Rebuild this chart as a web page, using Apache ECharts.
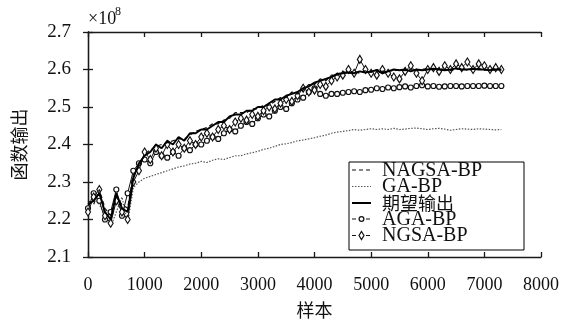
<!DOCTYPE html>
<html>
<head>
<meta charset="utf-8">
<script src="https://cdn.jsdelivr.net/npm/echarts@6/dist/echarts.min.js"></script>
<style>
  html, body { margin: 0; padding: 0; background: #fff; }
  #chart { width: 569px; height: 324px; }
</style>
</head>
<body>
<div id="chart"></div>
<script>
// sample index of every point (x axis)
const samples = [
  0, 100, 200, 300, 400, 500, 600, 700, 800, 900,
  1000, 1100, 1200, 1300, 1400, 1500, 1600, 1700, 1800, 1900,
  2000, 2100, 2200, 2300, 2400, 2500, 2600, 2700, 2800, 2900,
  3000, 3100, 3200, 3300, 3400, 3500, 3600, 3700, 3800, 3900,
  4000, 4100, 4200, 4300, 4400, 4500, 4600, 4700, 4800, 4900,
  5000, 5100, 5200, 5300, 5400, 5500, 5600, 5700, 5800, 5900,
  6000, 6100, 6200, 6300, 6400, 6500, 6600, 6700, 6800, 6900,
  7000, 7100, 7200, 7300
]

// values in units of 1e8
const nagsaBP = [
  2.25, 2.24, 2.28, 2.23, 2.21, 2.26, 2.24, 2.23, 2.32, 2.34,
  2.375, 2.385, 2.395, 2.40, 2.405, 2.41, 2.415, 2.415, 2.425, 2.435,
  2.44, 2.445, 2.455, 2.455, 2.465, 2.47, 2.485, 2.485, 2.485, 2.495,
  2.495, 2.505, 2.505, 2.515, 2.525, 2.525, 2.54, 2.535, 2.545, 2.56,
  2.56, 2.575, 2.57, 2.585, 2.585, 2.595, 2.59, 2.595, 2.59, 2.597,
  2.592, 2.60, 2.595, 2.598, 2.596, 2.60, 2.597, 2.60, 2.597, 2.60,
  2.603, 2.598, 2.603, 2.60, 2.597, 2.60, 2.603, 2.598, 2.60, 2.603,
  2.598, 2.60, 2.602, 2.598
]

const gaBP = [
  2.23, 2.27, 2.24, 2.21, 2.18, 2.22, 2.26, 2.19, 2.285, 2.30,
  2.31, 2.315, 2.32, 2.325, 2.33, 2.335, 2.34, 2.343, 2.348, 2.35,
  2.355, 2.352, 2.358, 2.362, 2.36, 2.365, 2.37, 2.37, 2.375, 2.378,
  2.382, 2.387, 2.39, 2.395, 2.40, 2.402, 2.405, 2.41, 2.412, 2.415,
  2.418, 2.422, 2.425, 2.43, 2.433, 2.435, 2.437, 2.44, 2.438, 2.44,
  2.442, 2.44, 2.442, 2.44, 2.443, 2.44, 2.441, 2.443, 2.444, 2.442,
  2.44, 2.442, 2.443, 2.441, 2.438, 2.44, 2.442, 2.441, 2.44, 2.442,
  2.441, 2.44, 2.439, 2.44
]

const expected = [
  2.24, 2.25, 2.27, 2.22, 2.20, 2.27, 2.23, 2.22, 2.31, 2.35,
  2.37, 2.38, 2.40, 2.39, 2.41, 2.40, 2.42, 2.41, 2.43, 2.43,
  2.44, 2.44, 2.45, 2.46, 2.46, 2.475, 2.48, 2.48, 2.49, 2.49,
  2.50, 2.50, 2.51, 2.52, 2.52, 2.53, 2.535, 2.54, 2.55, 2.555,
  2.565, 2.57, 2.575, 2.58, 2.588, 2.59, 2.592, 2.59, 2.595, 2.592,
  2.595, 2.598, 2.59, 2.595, 2.60, 2.598, 2.60, 2.595, 2.60, 2.598,
  2.60, 2.602, 2.60, 2.598, 2.60, 2.603, 2.60, 2.60, 2.602, 2.60,
  2.60, 2.598, 2.60, 2.60
]

const agaBP = [
  2.23, 2.27, 2.25, 2.20, 2.22, 2.28, 2.21, 2.27, 2.33, 2.35,
  2.36, 2.35, 2.38, 2.37, 2.365, 2.38, 2.37, 2.39, 2.385, 2.40,
  2.40, 2.41, 2.42, 2.415, 2.43, 2.44, 2.435, 2.45, 2.46, 2.455,
  2.47, 2.48, 2.475, 2.49, 2.50, 2.495, 2.51, 2.52, 2.525, 2.54,
  2.55, 2.535, 2.53, 2.535, 2.535, 2.538, 2.54, 2.542, 2.54, 2.545,
  2.546, 2.55, 2.548, 2.552, 2.55, 2.553, 2.555, 2.552, 2.556, 2.558,
  2.555, 2.556, 2.554, 2.555, 2.556, 2.556, 2.555, 2.556, 2.556, 2.556,
  2.557, 2.556, 2.556, 2.556
]

const ngsaBP = [
  2.22, 2.26, 2.28, 2.21, 2.19, 2.25, 2.22, 2.20, 2.30, 2.33,
  2.38, 2.36, 2.39, 2.37, 2.40, 2.38, 2.40, 2.39, 2.41, 2.40,
  2.42, 2.43, 2.42, 2.44, 2.45, 2.44, 2.46, 2.47, 2.465, 2.48,
  2.475, 2.49, 2.50, 2.495, 2.51, 2.52, 2.515, 2.53, 2.55, 2.54,
  2.545, 2.56, 2.555, 2.57, 2.58, 2.585, 2.60, 2.59, 2.627, 2.60,
  2.59, 2.585, 2.60, 2.59, 2.58, 2.575, 2.595, 2.61, 2.59, 2.57,
  2.60, 2.605, 2.595, 2.61, 2.60, 2.615, 2.605, 2.62, 2.60, 2.615,
  2.61, 2.60, 2.605, 2.60
]

const legendNames = ['NAGSA-BP', 'GA-BP', '期望输出', 'AGA-BP', 'NGSA-BP']

const xTicks = { min: 0, max: 8000, interval: 1000 }
const yTicks = { min: 2.1, max: 2.7, interval: 0.1 }

const serif = "'Liberation Serif', 'Times New Roman', 'Noto Sans CJK SC', serif"
const cjk = "'Noto Sans CJK SC', sans-serif"
const axisColor = '#1a1a1a'

const pair = (ys) => ys.map((y, i) => [samples[i], y])

const chart = echarts.init(document.getElementById('chart'), null, { renderer: 'canvas' })

const hiddenAxis = {
  axisLine: { show: true, lineStyle: { color: axisColor, width: 1.3 } },
  axisTick: { show: true, inside: true, length: 5, lineStyle: { color: axisColor, width: 1.3 } },
  axisLabel: { show: false },
  splitLine: { show: false }
}

// legend box drawn by hand so the line keys look like the original
const lx = 349
const ly = 162
const rowY = [170, 186.5, 203, 219, 235.5]
const keyStyles = [
  { stroke: '#111', lineWidth: 1.2, lineDash: [4, 3] },
  { stroke: '#555', lineWidth: 1.2, lineDash: [1.5, 1.5] },
  { stroke: '#000', lineWidth: 2 },
  { stroke: '#111', lineWidth: 1, lineDash: [4, 3] },
  { stroke: '#111', lineWidth: 1, lineDash: [4, 3] }
]
const legendGraphic = [{
  type: 'rect',
  shape: { x: lx, y: ly, width: 175, height: 88 },
  style: { fill: '#fff', stroke: '#000', lineWidth: 1 },
  z: 100
}]
legendNames.forEach((name, i) => {
  legendGraphic.push({
    type: 'line',
    shape: { x1: lx + 3, y1: rowY[i], x2: lx + 22, y2: rowY[i] },
    style: keyStyles[i],
    z: 101
  })
  legendGraphic.push({
    type: 'text',
    x: lx + 33,
    y: rowY[i] + 0.5,
    style: {
      text: name,
      fontFamily: i === 2 ? cjk : serif,
      fontSize: i === 2 ? 18 : 20,
      fill: '#111',
      verticalAlign: 'middle'
    },
    z: 101
  })
})
legendGraphic.push({
  type: 'circle',
  shape: { cx: lx + 12.5, cy: rowY[3], r: 2.4 },
  style: { fill: '#fff', stroke: '#111', lineWidth: 1.2 },
  z: 102
})
legendGraphic.push({
  type: 'polygon',
  shape: { points: [[lx + 12.5, rowY[4] - 4], [lx + 15, rowY[4]], [lx + 12.5, rowY[4] + 4], [lx + 10, rowY[4]]] },
  style: { fill: '#fff', stroke: '#111', lineWidth: 1.2 },
  z: 102
})

chart.setOption({
  animation: false,
  backgroundColor: '#fff',
  grid: { left: 88, right: 28, top: 32, bottom: 63 },
  textStyle: { fontFamily: serif },
  legend: { show: false, data: legendNames },
  graphic: [
    {
      type: 'text',
      x: 88,
      y: 10,
      style: { text: '×10', fontFamily: serif, fontSize: 18, fill: '#111' }
    },
    {
      type: 'text',
      x: 115,
      y: 6,
      style: { text: '8', fontFamily: serif, fontSize: 12, fill: '#111' }
    },
    ...legendGraphic
  ],
  xAxis: [{
    type: 'value',
    ...xTicks,
    name: '样本',
    nameLocation: 'middle',
    nameGap: 44,
    nameTextStyle: { fontFamily: cjk, fontSize: 18, color: '#111' },
    axisLine: { show: true, onZero: false, lineStyle: { color: axisColor, width: 1.3 } },
    axisTick: { show: true, inside: true, length: 5, lineStyle: { color: axisColor, width: 1.3 } },
    axisLabel: { fontFamily: serif, fontSize: 18, color: '#111', margin: 19, formatter: (v) => String(v) },
    splitLine: { show: false }
  }, {
    type: 'value',
    position: 'top',
    ...xTicks,
    ...hiddenAxis
  }],
  yAxis: [{
    type: 'value',
    ...yTicks,
    name: '函数输出',
    nameLocation: 'middle',
    nameGap: 60,
    nameTextStyle: { fontFamily: cjk, fontSize: 18, color: '#111' },
    axisLine: { show: true, onZero: false, lineStyle: { color: axisColor, width: 1.3 } },
    axisTick: { show: true, inside: true, length: 5, lineStyle: { color: axisColor, width: 1.3 } },
    axisLabel: { fontFamily: serif, fontSize: 19, color: '#111', margin: 17, formatter: (v) => v.toFixed(1) },
    splitLine: { show: false }
  }, {
    type: 'value',
    position: 'right',
    ...yTicks,
    ...hiddenAxis
  }],
  series: [
    {
      name: 'GA-BP',
      type: 'line',
      data: pair(gaBP),
      symbol: 'none',
      lineStyle: { color: '#555', width: 1.2, type: [1.5, 1.5] },
      z: 2
    },
    {
      name: 'AGA-BP',
      type: 'line',
      data: pair(agaBP),
      symbol: 'circle',
      symbolSize: 5,
      lineStyle: { color: '#111', width: 1 },
      itemStyle: { color: '#fff', borderColor: '#111', borderWidth: 1.2 },
      z: 3
    },
    {
      name: 'NGSA-BP',
      type: 'line',
      data: pair(ngsaBP),
      symbol: 'diamond',
      symbolSize: [5, 8],
      lineStyle: { color: '#111', width: 1 },
      itemStyle: { color: '#fff', borderColor: '#111', borderWidth: 1.2 },
      z: 4
    },
    {
      name: 'NAGSA-BP',
      type: 'line',
      data: pair(nagsaBP),
      symbol: 'none',
      lineStyle: { color: '#111', width: 1.2, type: [4, 3] },
      z: 5
    },
    {
      name: '期望输出',
      type: 'line',
      data: pair(expected),
      symbol: 'none',
      lineStyle: { color: '#000', width: 2 },
      z: 6
    }
  ]
})
</script>
</body>
</html>
